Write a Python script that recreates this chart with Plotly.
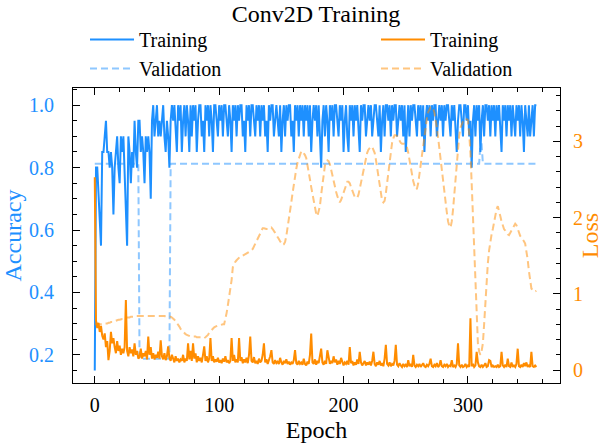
import plotly.graph_objects as go

# ---------------- data ----------------
train_acc = [
    0.15,0.80,0.80,0.70,0.60,0.55,0.85,0.85,0.90,0.95,
    0.85,0.85,0.80,0.85,0.80,0.65,0.80,0.85,0.90,0.80,
    0.75,0.90,0.85,0.90,0.80,0.70,0.55,0.90,0.85,0.75,
    0.85,0.80,0.95,0.85,0.80,0.95,0.95,0.85,0.90,0.85,
    0.75,0.90,0.85,0.90,0.85,0.70,0.95,1.00,0.90,0.95,
    1.00,0.90,0.95,0.90,0.95,1.00,0.90,0.85,0.95,0.90,
    0.80,0.95,1.00,0.95,1.00,0.90,0.85,1.00,0.95,1.00,
    0.85,0.95,1.00,0.90,1.00,0.95,0.85,1.00,0.90,1.00,
    0.95,1.00,0.85,0.95,1.00,1.00,0.90,0.95,0.85,1.00,
    0.95,1.00,0.90,1.00,0.95,0.85,1.00,1.00,0.95,0.90,
    1.00,0.95,1.00,0.90,1.00,1.00,0.95,0.90,1.00,0.95,
    0.85,1.00,0.95,1.00,0.90,1.00,0.95,1.00,1.00,0.90,
    0.95,0.85,1.00,0.95,1.00,0.90,1.00,1.00,0.95,0.90,
    1.00,0.95,1.00,0.90,1.00,0.95,1.00,0.90,0.95,0.85,
    1.00,0.95,1.00,1.00,0.90,0.95,1.00,0.95,0.90,1.00,
    0.85,0.95,1.00,0.90,1.00,0.95,1.00,1.00,0.90,0.95,
    0.85,1.00,0.95,1.00,0.90,1.00,0.95,1.00,0.90,1.00,
    0.95,1.00,0.90,1.00,0.85,0.95,1.00,0.95,1.00,0.90,
    1.00,0.90,0.80,0.95,1.00,0.90,1.00,0.95,0.85,1.00,
    0.95,1.00,0.90,1.00,1.00,0.95,0.90,1.00,0.95,1.00,
    0.85,0.95,1.00,0.90,0.85,1.00,0.95,1.00,0.90,1.00,
    0.95,1.00,0.90,0.85,1.00,0.95,1.00,1.00,0.90,0.95,
    1.00,0.95,1.00,0.90,0.95,1.00,1.00,0.95,0.90,1.00,
    0.85,0.95,1.00,0.90,1.00,1.00,0.95,1.00,0.90,1.00,
    0.95,1.00,1.00,0.90,0.95,1.00,0.95,1.00,0.90,1.00,
    0.85,0.95,1.00,0.90,1.00,0.95,1.00,1.00,0.95,0.90,
    1.00,0.95,1.00,0.90,1.00,0.85,0.95,1.00,0.95,1.00,
    0.90,1.00,0.95,1.00,1.00,0.90,0.95,1.00,0.95,1.00,
    0.90,1.00,0.95,1.00,1.00,0.95,0.90,1.00,0.95,1.00,
    0.90,0.85,0.95,1.00,1.00,0.95,0.90,1.00,1.00,0.95,
    1.00,0.90,0.95,0.80,0.95,1.00,0.90,1.00,0.95,1.00,
    0.85,0.95,1.00,0.90,1.00,1.00,0.95,1.00,0.90,1.00,
    0.95,1.00,0.90,1.00,0.95,1.00,0.90,0.85,1.00,0.95,
    1.00,0.90,1.00,0.95,1.00,0.90,1.00,0.95,0.90,1.00,
    0.95,1.00,0.90,1.00,0.95,0.85,1.00,0.95,0.90,1.00,
    0.90,0.95,1.00,0.90,1.00,1.00,
]

val_acc = [
    0.8125,0.8125,0.8125,0.8125,0.8125,0.8125,0.8125,0.8125,0.8125,0.8125,
    0.8125,0.8125,0.8125,0.8125,0.8125,0.8125,0.8125,0.8125,0.8125,0.8125,
    0.8125,0.8125,0.8125,0.8125,0.8125,0.8125,0.8125,0.8125,0.8125,0.8125,
    0.8125,0.8125,0.8125,0.8125,0.8125,0.8125,0.1875,0.1875,0.1875,0.1875,
    0.1875,0.1875,0.1875,0.1875,0.1875,0.1875,0.1875,0.1875,0.1875,0.1875,
    0.1875,0.1875,0.1875,0.1875,0.1875,0.1875,0.1875,0.1875,0.1875,0.1875,
    0.1875,0.8125,0.8125,0.8125,0.8125,0.8125,0.8125,0.8125,0.8125,0.8125,
    0.8125,0.8125,0.8125,0.8125,0.8125,0.8125,0.8125,0.8125,0.8125,0.8125,
    0.8125,0.8125,0.8125,0.8125,0.8125,0.8125,0.8125,0.8125,0.8125,0.8125,
    0.8125,0.8125,0.8125,0.8125,0.8125,0.8125,0.8125,0.8125,0.8125,0.8125,
    0.8125,0.8125,0.8125,0.8125,0.8125,0.8125,0.8125,0.8125,0.8125,0.8125,
    0.8125,0.8125,0.8125,0.8125,0.8125,0.8125,0.8125,0.8125,0.8125,0.8125,
    0.8125,0.8125,0.8125,0.8125,0.8125,0.8125,0.8125,0.8125,0.8125,0.8125,
    0.8125,0.8125,0.8125,0.8125,0.8125,0.8125,0.8125,0.8125,0.8125,0.8125,
    0.8125,0.8125,0.8125,0.8125,0.8125,0.8125,0.8125,0.8125,0.8125,0.8125,
    0.8125,0.8125,0.8125,0.8125,0.8125,0.8125,0.8125,0.8125,0.8125,0.8125,
    0.8125,0.8125,0.8125,0.8125,0.8125,0.8125,0.8125,0.8125,0.8125,0.8125,
    0.8125,0.8125,0.8125,0.8125,0.8125,0.8125,0.8125,0.8125,0.8125,0.8125,
    0.8125,0.8125,0.8125,0.8125,0.8125,0.8125,0.8125,0.8125,0.8125,0.8125,
    0.8125,0.8125,0.8125,0.8125,0.8125,0.8125,0.8125,0.8125,0.8125,0.8125,
    0.8125,0.8125,0.8125,0.8125,0.8125,0.8125,0.8125,0.8125,0.8125,0.8125,
    0.8125,0.8125,0.8125,0.8125,0.8125,0.8125,0.8125,0.8125,0.8125,0.8125,
    0.8125,0.8125,0.8125,0.8125,0.8125,0.8125,0.8125,0.8125,0.8125,0.8125,
    0.8125,0.8125,0.8125,0.8125,0.8125,0.8125,0.8125,0.8125,0.8125,0.8125,
    0.8125,0.8125,0.8125,0.8125,0.8125,0.8125,0.8125,0.8125,0.8125,0.8125,
    0.8125,0.8125,0.8125,0.8125,0.8125,0.8125,0.8125,0.8125,0.8125,0.8125,
    0.8125,0.8125,0.8125,0.8125,0.8125,0.8125,0.8125,0.8125,0.8125,0.8125,
    0.8125,0.8125,0.8125,0.8125,0.8125,0.8125,0.8125,0.8125,0.8125,0.8125,
    0.8125,0.8125,0.8125,0.8125,0.8125,0.8125,0.8125,0.8125,0.8125,0.8125,
    0.8125,0.8125,0.8125,0.8125,0.8125,0.8125,0.8125,0.8125,0.8125,0.8125,
    0.8125,0.8125,0.8125,0.8125,0.8125,0.8125,0.8125,0.8125,0.8125,0.8125,
    0.875,0.875,0.8125,0.8125,0.8125,0.8125,0.8125,0.8125,0.8125,0.8125,
    0.8125,0.8125,0.8125,0.8125,0.8125,0.8125,0.8125,0.8125,0.8125,0.8125,
    0.8125,0.8125,0.8125,0.8125,0.8125,0.8125,0.8125,0.8125,0.8125,0.8125,
    0.8125,0.8125,0.8125,0.8125,0.8125,0.8125,0.8125,0.8125,0.8125,0.8125,
    0.8125,0.8125,0.8125,0.8125,0.8125,0.8125,
]

train_loss = [
    2.53,0.65,0.55,0.62,0.50,0.58,0.45,0.40,0.48,0.30,
    0.38,0.13,0.25,0.50,0.35,0.42,0.30,0.22,0.38,0.25,
    0.32,0.20,0.28,0.22,0.30,0.92,0.25,0.18,0.30,0.22,
    0.27,0.18,0.35,0.20,0.25,0.15,0.17,0.28,0.15,0.22,
    0.18,0.25,0.14,0.44,0.20,0.30,0.15,0.22,0.14,0.20,
    0.16,0.24,0.15,0.39,0.18,0.14,0.22,0.13,0.18,0.31,
    0.16,0.12,0.20,0.14,0.10,0.18,0.12,0.15,0.10,0.14,
    0.12,0.20,0.10,0.15,0.12,0.35,0.14,0.25,0.12,0.35,
    0.15,0.22,0.10,0.18,0.12,0.16,0.10,0.20,0.31,0.12,
    0.18,0.10,0.15,0.42,0.12,0.18,0.10,0.14,0.11,0.16,
    0.10,0.13,0.09,0.15,0.11,0.18,0.10,0.13,0.09,0.12,
    0.42,0.12,0.20,0.10,0.14,0.10,0.42,0.12,0.17,0.09,
    0.14,0.10,0.16,0.09,0.20,0.44,0.12,0.10,0.17,0.09,
    0.12,0.08,0.15,0.10,0.12,0.20,0.35,0.10,0.14,0.08,
    0.12,0.18,0.26,0.10,0.08,0.13,0.09,0.11,0.08,0.16,
    0.10,0.07,0.12,0.09,0.14,0.08,0.11,0.07,0.10,0.08,
    0.13,0.26,0.09,0.07,0.12,0.08,0.10,0.07,0.15,0.08,
    0.06,0.11,0.08,0.20,0.48,0.10,0.08,0.14,0.07,0.12,
    0.09,0.18,0.28,0.10,0.07,0.12,0.08,0.26,0.14,0.08,
    0.12,0.09,0.18,0.10,0.14,0.07,0.12,0.08,0.16,0.09,
    0.06,0.10,0.08,0.12,0.07,0.30,0.09,0.12,0.06,0.10,
    0.07,0.14,0.08,0.24,0.10,0.06,0.09,0.12,0.06,0.10,
    0.07,0.11,0.06,0.12,0.24,0.08,0.05,0.10,0.07,0.12,
    0.06,0.09,0.05,0.15,0.33,0.08,0.06,0.10,0.05,0.08,
    0.06,0.12,0.33,0.07,0.05,0.09,0.06,0.04,0.08,0.05,
    0.07,0.04,0.13,0.05,0.08,0.04,0.20,0.06,0.04,0.07,
    0.05,0.08,0.04,0.06,0.09,0.05,0.04,0.07,0.05,0.08,
    0.15,0.05,0.04,0.07,0.05,0.09,0.04,0.06,0.13,0.05,
    0.04,0.07,0.05,0.08,0.04,0.06,0.05,0.13,0.04,0.06,
    0.04,0.08,0.35,0.06,0.04,0.07,0.04,0.05,0.08,0.04,
    0.06,0.04,0.68,0.05,0.08,0.04,0.06,0.24,0.10,0.05,
    0.04,0.07,0.04,0.06,0.09,0.04,0.05,0.13,0.12,0.04,
    0.06,0.04,0.05,0.04,0.07,0.04,0.05,0.24,0.06,0.04,
    0.07,0.04,0.15,0.05,0.04,0.10,0.04,0.06,0.04,0.08,
    0.28,0.05,0.04,0.07,0.04,0.09,0.05,0.10,0.04,0.06,
    0.04,0.24,0.05,0.04,0.06,0.04,
]

val_loss = [
    0.60,0.60,0.60,0.60,0.60,0.60,0.60,0.61,0.61,0.61,
    0.61,0.62,0.62,0.63,0.63,0.63,0.64,0.65,0.65,0.66,
    0.66,0.67,0.67,0.67,0.68,0.68,0.69,0.69,0.69,0.70,
    0.70,0.70,0.70,0.71,0.71,0.71,0.71,0.71,0.71,0.71,
    0.71,0.71,0.71,0.71,0.71,0.71,0.71,0.71,0.71,0.71,
    0.71,0.71,0.71,0.71,0.71,0.71,0.71,0.70,0.70,0.70,
    0.70,0.70,0.69,0.68,0.66,0.64,0.62,0.60,0.57,0.54,
    0.52,0.50,0.48,0.47,0.46,0.45,0.45,0.44,0.44,0.44,
    0.44,0.44,0.43,0.43,0.43,0.43,0.43,0.42,0.42,0.43,
    0.44,0.46,0.49,0.51,0.53,0.55,0.56,0.57,0.58,0.58,
    0.59,0.59,0.60,0.60,0.60,0.66,0.75,0.85,0.95,1.07,
    1.18,1.35,1.39,1.42,1.44,1.46,1.47,1.49,1.49,1.50,
    1.50,1.51,1.52,1.53,1.54,1.55,1.57,1.59,1.62,1.65,
    1.69,1.72,1.75,1.79,1.83,1.86,1.86,1.85,1.85,1.85,
    1.85,1.86,1.87,1.85,1.83,1.80,1.77,1.75,1.72,1.69,
    1.66,1.64,1.65,1.68,1.76,1.86,1.98,2.09,2.20,2.32,
    2.44,2.55,2.64,2.72,2.78,2.83,2.87,2.87,2.85,2.82,
    2.78,2.70,2.60,2.50,2.40,2.30,2.20,2.10,2.05,2.02,
    2.07,2.15,2.30,2.45,2.58,2.68,2.73,2.75,2.74,2.70,
    2.63,2.55,2.47,2.40,2.34,2.28,2.24,2.20,2.23,2.28,
    2.34,2.40,2.44,2.47,2.47,2.45,2.40,2.35,2.30,2.27,
    2.26,2.26,2.30,2.38,2.46,2.55,2.64,2.72,2.79,2.85,
    2.89,2.92,2.93,2.93,2.90,2.85,2.76,2.65,2.53,2.40,
    2.30,2.22,2.20,2.22,2.32,2.45,2.60,2.75,2.88,2.98,
    3.04,3.08,3.08,3.07,3.04,3.00,2.98,2.97,2.97,2.97,
    2.96,2.92,2.85,2.75,2.65,2.56,2.48,2.42,2.37,2.38,
    2.45,2.57,2.70,2.83,2.95,3.08,3.20,3.30,3.38,3.43,
    3.45,3.45,3.43,3.38,3.30,3.18,3.05,2.90,2.75,2.60,
    2.45,2.32,2.20,2.07,1.95,1.89,1.87,1.95,2.10,2.32,
    2.55,2.76,2.95,3.08,3.18,3.23,3.26,3.28,3.30,3.29,
    3.28,3.10,2.85,2.45,2.00,1.50,1.00,0.62,0.35,0.24,
    0.20,0.25,0.35,0.60,0.90,1.15,1.40,1.57,1.70,1.78,
    1.85,1.95,2.05,2.11,2.15,2.10,2.02,1.95,1.88,1.85,
    1.83,1.80,1.78,1.77,1.80,1.85,1.88,1.91,1.92,1.90,
    1.85,1.80,1.76,1.74,1.72,1.69,1.66,1.58,1.45,1.30,
    1.15,1.07,1.05,1.03,1.03,1.04,
]

acc_ticks = [0.2, 0.4, 0.6, 0.8, 1.0]
acc_tick_text = ["0.2", "0.4", "0.6", "0.8", "1.0"]
loss_ticks = [0, 1, 2, 3]
epoch_ticks = [0, 100, 200, 300]

# ---------------- styling ----------------
BLUE = "#1E90FF"
ORANGE = "#FF8C00"
BLUE_LIGHT = "rgba(30,144,255,0.5)"
ORANGE_LIGHT = "rgba(255,140,0,0.5)"
FONT = "Liberation Serif"
DASH = "7px,4px"

fig = go.Figure()
fig.add_trace(go.Scatter(x=list(range(len(train_acc))), y=train_acc, name="Training",
                         mode="lines", line=dict(color=BLUE, width=2), legend="legend"))
fig.add_trace(go.Scatter(x=list(range(len(val_acc))), y=val_acc, name="Validation",
                         mode="lines", line=dict(color=BLUE_LIGHT, width=2, dash=DASH), legend="legend"))
fig.add_trace(go.Scatter(x=list(range(len(train_loss))), y=train_loss, name="Training",
                         mode="lines", line=dict(color=ORANGE, width=2), yaxis="y2", legend="legend2"))
fig.add_trace(go.Scatter(x=list(range(len(val_loss))), y=val_loss, name="Validation",
                         mode="lines", line=dict(color=ORANGE_LIGHT, width=2, dash=DASH), yaxis="y2", legend="legend2"))

# plot area: x 73..560 px, y 88..383 px
legend_common = dict(orientation="v", xref="paper", yref="paper",
                     y=(383-20)/295, xanchor="left", yanchor="top", itemwidth=44,
                     font=dict(size=20, family=FONT), bgcolor="rgba(0,0,0,0)",
                     traceorder="normal")

fig.update_layout(
    width=603, height=443,
    margin=dict(l=73, r=43, t=88, b=60),
    paper_bgcolor="white", plot_bgcolor="white",
    font=dict(family=FONT, size=20, color="black"),
    title=dict(text="Conv2D Training", x=316/603, xanchor="center",
               y=1-14/443, yanchor="middle", font=dict(size=24, family=FONT)),
    showlegend=True,
    legend=dict(x=(85-73)/487, **legend_common),
    legend2=dict(x=(376-73)/487, **legend_common),
    xaxis=dict(range=[-17.5, 374], tickvals=epoch_ticks, ticks="inside", ticklen=7,
               tickcolor="black", showline=True, linecolor="black", linewidth=1,
               mirror="ticks", showgrid=False, zeroline=False, automargin=False,
               minor=dict(ticks="inside", ticklen=4, dtick=20, tick0=0, tickcolor="black"),
               title=dict(text="Epoch", standoff=6), ticklabelstandoff=4),
    yaxis=dict(range=[0.11, 1.055], tickvals=acc_ticks, ticktext=acc_tick_text,
               ticks="inside", ticklen=7, tickcolor="black",
               showline=True, linecolor="black", linewidth=1, mirror=False,
               showgrid=False, zeroline=False, automargin=False,
               tickfont=dict(color=BLUE),
               minor=dict(ticks="inside", ticklen=4, dtick=0.05, tick0=0, tickcolor="black"),
               title=dict(text="Accuracy", font=dict(color=BLUE), standoff=6),
               ticklabelstandoff=14),
    yaxis2=dict(range=[-0.17, 3.70], tickvals=loss_ticks, overlaying="y", side="right",
                ticks="inside", ticklen=7, tickcolor="black",
                showline=True, linecolor="black", linewidth=1,
                showgrid=False, zeroline=False, automargin=False,
                tickfont=dict(color=ORANGE),
                minor=dict(ticks="inside", ticklen=4, dtick=0.2, tick0=0, tickcolor="black"),
                title=dict(text="Loss", font=dict(color=ORANGE), standoff=2),
                ticklabelstandoff=8),
)

fig.write_html("out.html", post_script="document.body.style.margin='0';",
               config={"displayModeBar": False})
